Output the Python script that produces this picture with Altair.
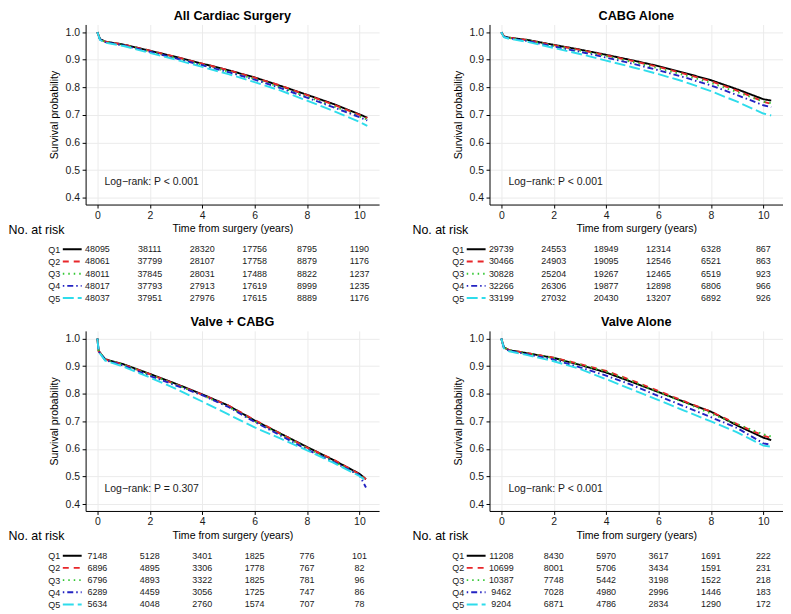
import altair as alt
import pandas as pd

GROUPS = ["Q1", "Q2", "Q3", "Q4", "Q5"]
COLORS = ["#000000", "#E8262A", "#33C733", "#2323C2", "#2EDCEB"]
DASHES = [[1, 0], [6, 5], [1.5, 4], [1.5, 3, 6, 3], [11, 4]]
RISK_TIMES = [0, 2, 4, 6, 8, 10]
Y_TICKS = [0.4, 0.5, 0.6, 0.7, 0.8, 0.9, 1.0]

# ---- All Cardiac Surgery ----
T_ALL = [0, 0.1, 0.3, 1, 2, 3, 4, 5, 6, 7, 8, 9, 10, 10.3]
S_ALL = {
    "Q1": [1.0, 0.975, 0.966, 0.955, 0.933, 0.910, 0.886, 0.862, 0.836, 0.805, 0.773, 0.740, 0.702, 0.690],
    "Q2": [1.0, 0.975, 0.966, 0.955, 0.933, 0.910, 0.886, 0.862, 0.835, 0.806, 0.772, 0.738, 0.700, 0.688],
    "Q3": [1.0, 0.974, 0.965, 0.953, 0.930, 0.906, 0.882, 0.857, 0.830, 0.800, 0.766, 0.732, 0.695, 0.683],
    "Q4": [1.0, 0.973, 0.964, 0.952, 0.929, 0.905, 0.880, 0.855, 0.828, 0.797, 0.763, 0.728, 0.692, 0.680],
    "Q5": [1.0, 0.972, 0.962, 0.950, 0.925, 0.900, 0.874, 0.848, 0.819, 0.788, 0.752, 0.715, 0.675, 0.660],
}
R_ALL = {
    "Q1": [48095, 38111, 28320, 17756, 8795, 1190],
    "Q2": [48061, 37799, 28107, 17758, 8879, 1176],
    "Q3": [48011, 37845, 28031, 17488, 8822, 1237],
    "Q4": [48017, 37793, 27913, 17619, 8999, 1235],
    "Q5": [48037, 37951, 27976, 17615, 8889, 1176],
}

# ---- CABG Alone ----
T_CABG = [0, 0.1, 0.3, 1, 2, 3, 4, 5, 6, 7, 8, 9, 10, 10.3]
S_CABG = {
    "Q1": [1.0, 0.985, 0.980, 0.972, 0.954, 0.937, 0.918, 0.898, 0.877, 0.852, 0.826, 0.793, 0.757, 0.752],
    "Q2": [1.0, 0.985, 0.980, 0.971, 0.953, 0.936, 0.916, 0.896, 0.874, 0.849, 0.822, 0.788, 0.748, 0.740],
    "Q3": [1.0, 0.984, 0.979, 0.970, 0.951, 0.933, 0.913, 0.892, 0.869, 0.844, 0.816, 0.783, 0.748, 0.743],
    "Q4": [1.0, 0.983, 0.978, 0.968, 0.948, 0.929, 0.908, 0.886, 0.862, 0.836, 0.807, 0.772, 0.735, 0.728],
    "Q5": [1.0, 0.982, 0.976, 0.965, 0.943, 0.921, 0.897, 0.873, 0.848, 0.820, 0.786, 0.748, 0.705, 0.698],
}
R_CABG = {
    "Q1": [29739, 24553, 18949, 12314, 6328, 867],
    "Q2": [30466, 24903, 19095, 12546, 6521, 863],
    "Q3": [30828, 25204, 19267, 12465, 6519, 923],
    "Q4": [32266, 26306, 19877, 12898, 6806, 966],
    "Q5": [33199, 27032, 20430, 13207, 6892, 926],
}

# ---- Valve + CABG ----
T_VC = [0, 0.05, 0.3, 1, 2, 3, 4, 5, 6, 7, 8, 9, 10, 10.25]
S_VC = {
    "Q1": [1.0, 0.955, 0.925, 0.907, 0.872, 0.836, 0.798, 0.757, 0.703, 0.655, 0.607, 0.560, 0.510, 0.490],
    "Q2": [1.0, 0.955, 0.924, 0.906, 0.871, 0.834, 0.797, 0.757, 0.705, 0.655, 0.605, 0.562, 0.508, 0.490],
    "Q3": [1.0, 0.955, 0.924, 0.905, 0.869, 0.833, 0.795, 0.753, 0.700, 0.652, 0.603, 0.555, 0.505, 0.485],
    "Q4": [1.0, 0.953, 0.922, 0.902, 0.865, 0.830, 0.795, 0.752, 0.698, 0.648, 0.598, 0.553, 0.505, 0.460],
    "Q5": [1.0, 0.952, 0.920, 0.898, 0.859, 0.818, 0.772, 0.725, 0.678, 0.637, 0.595, 0.550, 0.502, 0.485],
}
R_VC = {
    "Q1": [7148, 5128, 3401, 1825, 776, 101],
    "Q2": [6896, 4895, 3306, 1778, 767, 82],
    "Q3": [6796, 4893, 3322, 1825, 781, 96],
    "Q4": [6289, 4459, 3056, 1725, 747, 86],
    "Q5": [5634, 4048, 2760, 1574, 707, 78],
}

# ---- Valve Alone ----
T_VA = [0, 0.1, 0.3, 1, 2, 3, 4, 5, 6, 7, 8, 9, 10, 10.3]
S_VA = {
    "Q1": [1.0, 0.968, 0.958, 0.947, 0.930, 0.905, 0.877, 0.842, 0.806, 0.770, 0.735, 0.685, 0.641, 0.632],
    "Q2": [1.0, 0.968, 0.958, 0.947, 0.931, 0.908, 0.883, 0.848, 0.810, 0.772, 0.735, 0.690, 0.648, 0.640],
    "Q3": [1.0, 0.968, 0.958, 0.946, 0.930, 0.906, 0.881, 0.845, 0.806, 0.768, 0.728, 0.690, 0.653, 0.645],
    "Q4": [1.0, 0.966, 0.956, 0.943, 0.924, 0.896, 0.866, 0.831, 0.792, 0.754, 0.715, 0.676, 0.620, 0.615],
    "Q5": [1.0, 0.965, 0.954, 0.940, 0.918, 0.890, 0.853, 0.815, 0.777, 0.738, 0.700, 0.660, 0.612, 0.608],
}
R_VA = {
    "Q1": [11208, 8430, 5970, 3617, 1691, 222],
    "Q2": [10699, 8001, 5706, 3434, 1591, 231],
    "Q3": [10387, 7748, 5442, 3198, 1522, 218],
    "Q4": [9462, 7028, 4980, 2996, 1446, 183],
    "Q5": [9204, 6871, 4786, 2834, 1290, 172],
}

TITLES = ["All Cardiac Surgery", "CABG Alone", "Valve + CABG", "Valve Alone"]
PVALS = ["Log\u2212rank: P < 0.001", "Log\u2212rank: P < 0.001",
         "Log\u2212rank: P = 0.307", "Log\u2212rank: P < 0.001"]

W, H = 295, 181
XD = [-0.45, 10.75]
YD = [0.375, 1.028]
FONT = "Liberation Sans"


def panel(title, times, surv, risk, ptext):
    km = pd.DataFrame(
        [{"group": g, "time": t, "surv": s} for g in GROUPS for t, s in zip(times, surv[g])]
    )
    rk = pd.DataFrame(
        [{"group": g, "time": t, "n": n} for g in GROUPS for t, n in zip(RISK_TIMES, risk[g])]
    )
    pv = pd.DataFrame({"label": [ptext]})

    xaxis = alt.Axis(values=RISK_TIMES, title="Time from surgery (years)", grid=True,
                     gridColor="#EBEBEB", gridWidth=1, domainColor="#000000", tickColor="#000000",
                     tickSize=3.5, labelPadding=2.5, labelFontSize=10.5, labelColor="#1a1a1a",
                     titleFontSize=10.6, titleFontWeight="normal", titlePadding=3,
                     titleColor="#000000", labelFlush=False, labelOverlap=False)
    xscale = alt.Scale(domain=XD, nice=False, zero=False)
    X = alt.X("time:Q", scale=xscale, axis=xaxis)
    yaxis = alt.Axis(values=Y_TICKS, format=".1f",
                     title="Survival probability", grid=True, gridColor="#EBEBEB", gridWidth=1,
                     domainColor="#000000", tickColor="#000000", tickSize=3.5, labelPadding=2.5,
                     labelFontSize=10.5, labelColor="#1a1a1a", titleFontSize=10.6,
                     titleFontWeight="normal", titlePadding=6, titleColor="#000000",
                     labelOverlap=False, labelFlush=False)
    yscale = alt.Scale(domain=YD, nice=False, zero=False)
    color = alt.Color("group:N", scale=alt.Scale(domain=GROUPS, range=COLORS), legend=None)
    dash = alt.StrokeDash("group:N", scale=alt.Scale(domain=GROUPS, range=DASHES), legend=None)

    lines = alt.Chart(km).mark_line(strokeWidth=1.9, strokeCap="butt").encode(
        x=X, y=alt.Y("surv:Q", scale=yscale, axis=yaxis), color=color, strokeDash=dash
    )
    ptxt = alt.Chart(pv).mark_text(align="left", baseline="middle", fontSize=10.5,
                                   color="#1a1a1a").encode(
        x=alt.X(datum=0.27, scale=xscale, axis=xaxis),
        y=alt.Y(datum=0.455, scale=yscale, axis=yaxis),
        text="label:N",
    )
    km_layer = alt.layer(lines, ptxt)

    tab_y = alt.Scale(type="point", domain=GROUPS, range=[H + 45, H + 94], padding=0)
    tab_axis = alt.Axis(orient="left", domain=False, ticks=False, tickSize=0, grid=False,
                        labelPadding=26, labelFontSize=9, labelColor="#1a1a1a",
                        labelOverlap=False, title="No. at risk", titleAngle=0,
                        titleAlign="left", titleBaseline="middle", titleX=-78, titleY=H + 25,
                        titleFontSize=12.5, titleFontWeight="normal", titleColor="#000000")
    Y_tab = alt.Y("group:N", scale=tab_y, axis=tab_axis)
    nums = alt.Chart(rk).mark_text(fontSize=9, color="#1a1a1a", baseline="middle").encode(
        x=X, y=Y_tab, text=alt.Text("n:Q", format="d")
    )
    segs = alt.Chart(rk).transform_filter(alt.datum.time == 0).mark_rule(
        strokeWidth=1.9, strokeCap="butt").encode(
        x=alt.X(datum=-1.32, scale=xscale, axis=xaxis), x2=alt.datum(-0.6),
        y=Y_tab, color=color, strokeDash=dash
    )
    tab_layer = alt.layer(nums, segs)

    return alt.layer(km_layer, tab_layer).resolve_scale(y="independent").properties(
        width=W, height=H,
        title=alt.Title(title, fontSize=12.7, fontWeight="bold", anchor="middle", offset=2,
                        color="#000000", font=FONT),
    )


p1 = panel(TITLES[0], T_ALL, S_ALL, R_ALL, PVALS[0])
p2 = panel(TITLES[1], T_CABG, S_CABG, R_CABG, PVALS[1])
p3 = panel(TITLES[2], T_VC, S_VC, R_VC, PVALS[2])
p4 = panel(TITLES[3], T_VA, S_VA, R_VA, PVALS[3])

chart = alt.vconcat(
    alt.hconcat(p1, p2, spacing=33),
    alt.hconcat(p3, p4, spacing=33),
    spacing=13,
).properties(
    padding={"left": 0, "top": 0, "right": 0, "bottom": 0}, background="white"
).configure(font=FONT).configure_view(stroke=None)

chart.save("out.html", embed_options={"renderer": "svg", "actions": False})
